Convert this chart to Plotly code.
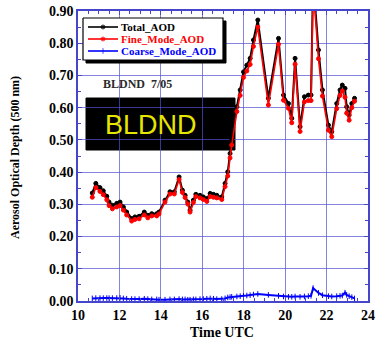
import plotly.graph_objects as go

# Sunphotometer retrieval times (hours, UTC)
time_utc = [10.69, 10.86, 11.06, 11.22, 11.39, 11.50, 11.66, 11.87, 12.03, 12.19,
            12.35, 12.59, 12.75, 12.95, 13.20, 13.37, 13.56, 13.80, 13.91, 14.20,
            14.44, 14.65, 14.88, 15.04, 15.17, 15.30, 15.41, 15.57, 15.69, 15.89,
            16.05, 16.22, 16.38, 16.54, 16.70, 16.94, 17.10, 17.23, 17.34, 17.42,
            17.67, 17.83, 17.99, 18.15, 18.31, 18.47, 18.68, 19.19, 19.68, 19.92,
            20.16, 20.32, 20.48, 20.72, 20.93, 21.12, 21.25, 21.35, 21.61, 21.80,
            22.09, 22.25, 22.49, 22.65, 22.76, 22.89, 22.97, 23.09, 23.22, 23.35]

total_aod = [0.335, 0.365, 0.352, 0.342, 0.325, 0.307, 0.297, 0.303, 0.307, 0.292,
             0.276, 0.256, 0.261, 0.263, 0.276, 0.266, 0.271, 0.271, 0.276, 0.313,
             0.339, 0.339, 0.385, 0.344, 0.328, 0.307, 0.282, 0.313, 0.331, 0.328,
             0.323, 0.318, 0.334, 0.331, 0.328, 0.323, 0.365, 0.401, 0.458, 0.499,
             0.603, 0.655, 0.711, 0.732, 0.753, 0.810, 0.872, 0.629, 0.815, 0.639,
             0.613, 0.567, 0.753, 0.541, 0.634, 0.639, 0.639, 1.000, 0.779, 0.655,
             0.546, 0.525, 0.613, 0.655, 0.670, 0.660, 0.603, 0.577, 0.613, 0.629]

fine_aod = [0.322, 0.352, 0.340, 0.330, 0.314, 0.296, 0.286, 0.292, 0.296, 0.282,
            0.267, 0.248, 0.253, 0.255, 0.267, 0.258, 0.264, 0.264, 0.270, 0.307,
            0.332, 0.332, 0.377, 0.337, 0.321, 0.301, 0.276, 0.306, 0.324, 0.320,
            0.315, 0.309, 0.324, 0.322, 0.320, 0.315, 0.355, 0.388, 0.444, 0.484,
            0.588, 0.638, 0.694, 0.714, 0.734, 0.790, 0.850, 0.608, 0.797, 0.623,
            0.598, 0.553, 0.735, 0.526, 0.618, 0.622, 0.622, 0.980, 0.752, 0.636,
            0.530, 0.510, 0.597, 0.638, 0.652, 0.632, 0.583, 0.561, 0.600, 0.620]

coarse_aod = [0.008, 0.009, 0.009, 0.009, 0.009, 0.009, 0.009, 0.009, 0.010, 0.008,
              0.007, 0.006, 0.006, 0.006, 0.007, 0.006, 0.005, 0.005, 0.004, 0.004,
              0.005, 0.005, 0.006, 0.005, 0.005, 0.004, 0.004, 0.005, 0.005, 0.006,
              0.006, 0.007, 0.008, 0.007, 0.006, 0.006, 0.008, 0.011, 0.012, 0.013,
              0.014, 0.015, 0.016, 0.017, 0.018, 0.020, 0.022, 0.019, 0.016, 0.014,
              0.013, 0.013, 0.014, 0.013, 0.014, 0.015, 0.016, 0.040, 0.025, 0.018,
              0.015, 0.014, 0.015, 0.016, 0.017, 0.026, 0.019, 0.015, 0.012, 0.008]

series_names = ["Total_AOD", "Fine_Mode_AOD", "Coarse_Mode_AOD"]
series_colors = ["black", "red", "blue"]

x_ticks = [10, 12, 14, 16, 18, 20, 22, 24]
y_ticks = [0.0, 0.1, 0.2, 0.3, 0.4, 0.5, 0.6, 0.7, 0.8, 0.9]
y_tick_labels = ["0.00", "0.10", "0.20", "0.30", "0.40", "0.50", "0.60", "0.70", "0.80", "0.90"]
X_RANGE = [10, 24]
Y_RANGE = [0, 0.9]

SERIF = "Liberation Serif"
GRID = "rgba(80,80,210,0.7)"
FRAME = "rgb(70,70,205)"

# Plot area geometry in pixels
W, H = 390, 342
ML, MR, MT, MB = 78, 22, 11, 41
PW, PH = W - ML - MR, H - MT - MB


def px(x):
    """pixel column -> paper fraction"""
    return (x - ML) / PW


def py(y):
    """pixel row -> paper fraction"""
    return (H - MB - y) / PH


def dx(x):
    """pixel column -> axis units (hours)"""
    return X_RANGE[0] + px(x) * (X_RANGE[1] - X_RANGE[0])


def dy(y):
    """pixel row -> axis units (AOD)"""
    return Y_RANGE[0] + py(y) * (Y_RANGE[1] - Y_RANGE[0])


def box(x0, y0, x1, y1):
    return [dx(x0), dx(x1), dx(x1), dx(x0), dx(x0)], [dy(y0), dy(y0), dy(y1), dy(y1), dy(y0)]


fig = go.Figure()

for yvals, name, color, lw, sym in [
    (total_aod, series_names[0], series_colors[0], 2.0, "circle"),
    (fine_aod, series_names[1], series_colors[1], 1.6, "circle"),
    (coarse_aod, series_names[2], series_colors[2], 2.0, "line-ns"),
]:
    fig.add_trace(go.Scatter(
        x=time_utc, y=yvals, mode="lines+markers", name=name, showlegend=False,
        line=dict(color=color, width=lw),
        marker=dict(color=color, size=4, symbol=sym, line=dict(color=color, width=1)),
    ))

# Key panel: drop shadow, white frame, then one sample line per series
sx, sy = box(86, 21, 226, 63)
fig.add_trace(go.Scatter(x=sx, y=sy, mode="lines", fill="toself", fillcolor="black",
                         line=dict(color="black", width=1), hoverinfo="skip", showlegend=False))
bx, by = box(83, 18, 223, 60)
fig.add_trace(go.Scatter(x=bx, y=by, mode="lines", fill="toself", fillcolor="white",
                         line=dict(color="black", width=1.2), hoverinfo="skip", showlegend=False))

row_y = [27, 39, 51]
for name, color, ry in zip(series_names, series_colors, row_y):
    sym = "line-ns" if color == "blue" else "circle"
    fig.add_trace(go.Scatter(
        x=[dx(88), dx(103), dx(118)], y=[dy(ry)] * 3, mode="lines+markers",
        line=dict(color=color, width=1.6),
        marker=dict(color=color, size=[0, 4, 0], symbol=sym, line=dict(color=color, width=1)),
        hoverinfo="skip", showlegend=False,
    ))
    fig.add_annotation(text=f"<b>{name}</b>", xref="paper", yref="paper",
                       x=px(119), y=py(ry), xanchor="left", yanchor="middle",
                       showarrow=False,
                       font=dict(family=SERIF, size=11, color=color))

# Black station label box, drawn beneath the grid
fig.add_shape(type="rect", xref="paper", yref="paper",
              x0=px(86), x1=px(235), y0=py(150), y1=py(98),
              fillcolor="black", line=dict(color="black", width=1), layer="below")

fig.add_annotation(text="BLDND", xref="paper", yref="paper", x=px(151), y=py(125),
                   xanchor="center", yanchor="middle", showarrow=False,
                   font=dict(family="Liberation Sans", size=27, color="#e6e600"))
fig.add_annotation(text="<b>BLDND  7/05</b>", xref="paper", yref="paper", x=px(137), y=py(84),
                   xanchor="center", yanchor="middle", showarrow=False,
                   font=dict(family=SERIF, size=12, color="#2a2a2a"))
fig.add_annotation(text="<b>Aerosol Optical Depth (500 nm)</b>", xref="paper", yref="paper",
                   x=px(15), y=py(158), xanchor="center", yanchor="middle", textangle=-90,
                   showarrow=False, font=dict(family=SERIF, size=12, color="black"))
fig.add_annotation(text="<b>Time UTC</b>", xref="paper", yref="paper", x=px(222), y=py(332),
                   xanchor="center", yanchor="middle", showarrow=False,
                   font=dict(family=SERIF, size=14, color="black"))

fig.update_layout(
    width=W, height=H,
    margin=dict(l=ML, r=MR, t=MT, b=MB, autoexpand=False),
    paper_bgcolor="white", plot_bgcolor="white",
    showlegend=False,
)

axis_common = dict(
    showgrid=True, gridcolor=GRID, gridwidth=1,
    showline=True, linecolor=FRAME, linewidth=1.5, mirror="allticks",
    ticks="inside", ticklen=4, tickcolor=FRAME, zeroline=False, automargin=False,
    tickfont=dict(family=SERIF, size=14, color="black", weight="bold"),
)
fig.update_xaxes(range=X_RANGE, tickvals=x_ticks, ticktext=[str(v) for v in x_ticks],
                 minor=dict(dtick=0.5, ticks="inside", ticklen=3, tickcolor=FRAME, showgrid=False),
                 **axis_common)
fig.update_yaxes(range=Y_RANGE, tickvals=y_ticks, ticktext=y_tick_labels,
                 minor=dict(dtick=0.05, ticks="inside", ticklen=3, tickcolor=FRAME, showgrid=False),
                 **axis_common)

fig.write_html("out.html")
